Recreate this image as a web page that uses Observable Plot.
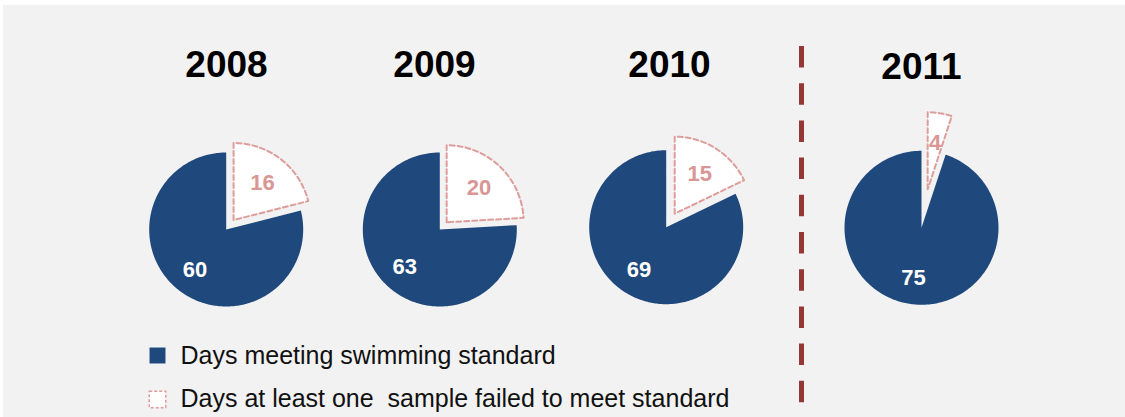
<!DOCTYPE html>
<html>
<head>
<meta charset="utf-8">
<script src="https://cdn.jsdelivr.net/npm/d3@7"></script>
<script src="https://cdn.jsdelivr.net/npm/@observablehq/plot@0.6"></script>
<style>
  html, body { margin: 0; padding: 0; background: #ffffff; }
  #chart { width: 1125px; height: 417px; overflow: hidden; }
  #chart svg { display: block; margin: 5px 0 0 3px; }
</style>
</head>
<body>
<div id="chart"></div>
<script>
// ---- data ----
const years = ["2008", "2009", "2010", "2011"];
const daysMeeting = [60, 63, 69, 75];
const daysFailed = [16, 20, 15, 4];
const legendLabels = ["Days meeting swimming standard", "Days at least one\u00a0 sample failed to meet standard"];

// ---- layout / style (pixel coordinates of the picture) ----
const layout = {
  cx: [225.7, 439.3, 665.7, 921],
  cy: [229, 229, 226.7, 227.3],
  r: 77,
  explode: [12, 10, 16, 39],
  titleX: [226, 434, 669, 921],
  titleY: [76, 76, 76, 78],
  meetLabelDist: 51,
  failLabelDist: 47,
  separatorX: 801,
  separatorY: [46, 417],
  legendSwatchX: 157,
  legendTextX: 180,
  legendY: [355, 399],
  legendBaseline: [363.3, 406.7]
};
const colors = {
  meeting: "#1f497d",
  failedStroke: "#dd9d9b",
  failedLabel: "#d99694",
  separator: "#953735",
  background: "#f2f2f2"
};

// ---- build slice outlines ----
const step = Math.PI / 180;
function arcPoints(cx, cy, r, a0, a1) {
  const pts = [];
  const n = Math.max(2, Math.ceil((a1 - a0) / step));
  for (let k = 0; k <= n; k++) {
    const a = a0 + (a1 - a0) * k / n;
    pts.push([cx + r * Math.sin(a), cy - r * Math.cos(a)]);
  }
  return pts;
}
const meetRows = [], failRows = [], meetLabels = [], failLabels = [];
years.forEach((yr, i) => {
  const total = daysMeeting[i] + daysFailed[i];
  const a1 = 2 * Math.PI * daysFailed[i] / total;
  const cx = layout.cx[i], cy = layout.cy[i], r = layout.r;
  // failed (exploded) slice
  const mid = a1 / 2;
  const ex = cx + layout.explode[i] * Math.sin(mid);
  const ey = cy - layout.explode[i] * Math.cos(mid);
  const fp = [[ex, ey], ...arcPoints(ex, ey, r, 0, a1), [ex, ey]];
  fp.forEach(([x, y]) => failRows.push({id: yr, x, y}));
  failLabels.push({
    x: ex + layout.failLabelDist * Math.sin(mid),
    y: ey - layout.failLabelDist * Math.cos(mid),
    text: String(daysFailed[i])
  });
  // meeting slice
  const mp = [[cx, cy], ...arcPoints(cx, cy, r, a1, 2 * Math.PI), [cx, cy]];
  mp.forEach(([x, y]) => meetRows.push({id: yr, x, y}));
  const mm = (a1 + 2 * Math.PI) / 2;
  meetLabels.push({
    x: cx + layout.meetLabelDist * Math.sin(mm),
    y: cy - layout.meetLabelDist * Math.cos(mm),
    text: String(daysMeeting[i])
  });
});

const chart = Plot.plot({
  width: 1122,
  height: 412,
  margin: 0,
  x: {type: "linear", domain: [3, 1125], range: [0, 1122], axis: null},
  y: {type: "linear", domain: [5, 417], range: [0, 412], axis: null},
  style: {background: colors.background, fontFamily: "'Liberation Sans', Arial, sans-serif"},
  marks: [
    Plot.line(meetRows, {x: "x", y: "y", z: "id", fill: colors.meeting, stroke: "none"}),
    Plot.line(failRows, {x: "x", y: "y", z: "id", fill: "white", stroke: colors.failedStroke, strokeWidth: 2, strokeDasharray: "5,3"}),
    Plot.text(meetLabels, {x: "x", y: "y", text: "text", fill: "white", fontSize: 22, fontWeight: "bold", textAnchor: "middle", lineAnchor: "middle"}),
    Plot.text(failLabels, {x: "x", y: "y", text: "text", fill: colors.failedLabel, fontSize: 22, fontWeight: "bold", textAnchor: "middle", lineAnchor: "middle"}),
    Plot.text(years, {x: (d, i) => layout.titleX[i], y: (d, i) => layout.titleY[i], text: d => d, fill: "black", fontSize: 37, fontWeight: "bold", textAnchor: "middle", lineAnchor: "bottom"}),
    Plot.ruleX([layout.separatorX], {x: d => d, y1: layout.separatorY[0], y2: layout.separatorY[1], stroke: colors.separator, strokeWidth: 5, strokeDasharray: "21.5,15.7"}),
    Plot.dot([legendLabels[0]], {x: () => layout.legendSwatchX, y: () => layout.legendY[0], symbol: "square", r: 9, fill: colors.meeting, stroke: "none"}),
    Plot.dot([legendLabels[1]], {x: () => layout.legendSwatchX, y: () => layout.legendY[1], symbol: "square", r: 9.3, fill: "white", stroke: colors.failedStroke, strokeWidth: 1.5, strokeDasharray: "3,2"}),
    Plot.text(legendLabels, {x: () => layout.legendTextX, y: (d, i) => layout.legendBaseline[i], text: d => d, fill: "#111111", fontSize: 25, textAnchor: "start", lineAnchor: "bottom"})
  ]
});
document.getElementById("chart").appendChild(chart);
</script>
</body>
</html>
